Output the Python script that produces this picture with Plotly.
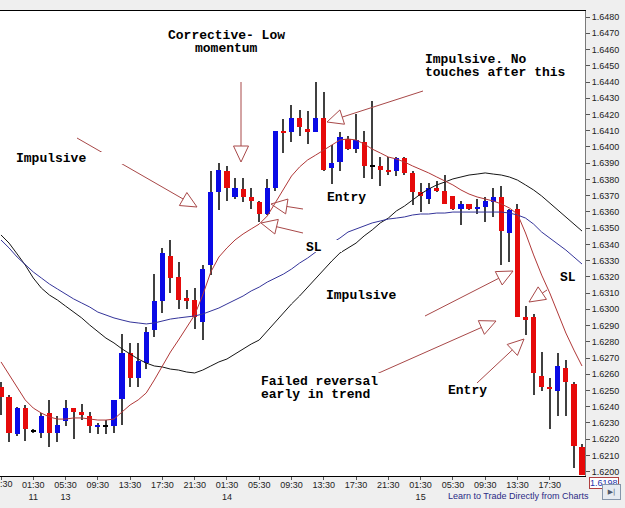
import math
import plotly.graph_objects as go

# ---------------- data (hourly candles) ----------------
tick_labels = ["21:30", "01:30<br>11", "05:30<br>13", "09:30", "13:30", "17:30", "21:30",
               "01:30<br>14", "05:30", "09:30", "13:30", "17:30", "21:30",
               "01:30<br>15", "05:30", "09:30", "13:30", "17:30"]

opens = [1.6252, 1.6246, 1.6223, 1.6239, 1.6225, 1.6224, 1.6236, 1.6224, 1.6231, 1.6239,
         1.6237, 1.6234, 1.6228, 1.6228, 1.6228, 1.6245, 1.6273, 1.6258, 1.6267, 1.6287,
         1.6305, 1.6333, 1.6320, 1.6307, 1.6306, 1.6292, 1.6327, 1.6372, 1.6385, 1.6369,
         1.6374, 1.6369, 1.6366, 1.6359, 1.6375, 1.6410, 1.6409, 1.6418, 1.6411, 1.6409,
         1.6418, 1.6387, 1.6391, 1.6405, 1.6399, 1.6403, 1.6388, 1.6388, 1.6386, 1.6385,
         1.6393, 1.6384, 1.6372, 1.6368, 1.6375, 1.6373, 1.6370, 1.6362, 1.6365, 1.6362,
         1.6363, 1.6366, 1.6369, 1.6347, 1.6362, 1.6295, 1.6295, 1.6259, 1.6252, 1.6250,
         1.6264, 1.6254, 1.6215]
highs = [1.6255, 1.6247, 1.6240, 1.6241, 1.6226, 1.6236, 1.6244, 1.6234, 1.6244, 1.6239,
         1.6242, 1.6237, 1.6230, 1.6232, 1.6244, 1.6285, 1.6279, 1.6279, 1.6289, 1.6322,
         1.6338, 1.6343, 1.6329, 1.6312, 1.6313, 1.6327, 1.6385, 1.6390, 1.6388, 1.6381,
         1.6381, 1.6375, 1.6367, 1.6380, 1.6410, 1.6417, 1.6426, 1.6423, 1.6422, 1.6440,
         1.6434, 1.6401, 1.6409, 1.6407, 1.6420, 1.6410, 1.6428, 1.6394, 1.6394, 1.6394,
         1.6394, 1.6385, 1.6378, 1.6378, 1.6379, 1.6383, 1.6370, 1.6367, 1.6365, 1.6368,
         1.6369, 1.6375, 1.6376, 1.6362, 1.6365, 1.6302, 1.6297, 1.6274, 1.6258, 1.6273,
         1.6269, 1.6255, 1.6217]
lows = [1.6235, 1.6218, 1.6222, 1.6219, 1.6224, 1.6221, 1.6215, 1.6218, 1.6228, 1.6220,
        1.6232, 1.6224, 1.6223, 1.6223, 1.6224, 1.6229, 1.6252, 1.6252, 1.6263, 1.6283,
        1.6298, 1.6310, 1.6300, 1.6300, 1.6288, 1.6281, 1.6321, 1.6361, 1.6367, 1.6368,
        1.6366, 1.6362, 1.6354, 1.6358, 1.6373, 1.6396, 1.6403, 1.6407, 1.6402, 1.6409,
        1.6385, 1.6377, 1.6385, 1.6398, 1.6396, 1.6381, 1.6380, 1.6376, 1.6383, 1.6382,
        1.6383, 1.6364, 1.6360, 1.6365, 1.6372, 1.6365, 1.6361, 1.6352, 1.6361, 1.6359,
        1.6354, 1.6357, 1.6327, 1.6329, 1.6295, 1.6284, 1.6247, 1.6250, 1.6226, 1.6234,
        1.6234, 1.6202, 1.6198]
closes = [1.6246, 1.6224, 1.6239, 1.6226, 1.6225, 1.6234, 1.6224, 1.6229, 1.6239, 1.6237,
          1.6235, 1.6228, 1.6229, 1.6228, 1.6244, 1.6273, 1.6258, 1.6268, 1.6286, 1.6305,
          1.6335, 1.6319, 1.6306, 1.6305, 1.6295, 1.6325, 1.6372, 1.6386, 1.6375, 1.6375,
          1.6369, 1.6367, 1.6359, 1.6375, 1.6410, 1.6409, 1.6418, 1.6412, 1.6409, 1.6418,
          1.6386, 1.6390, 1.6406, 1.6399, 1.6404, 1.6388, 1.6388, 1.6386, 1.6385, 1.6393,
          1.6384, 1.6372, 1.6370, 1.6375, 1.6373, 1.6365, 1.6362, 1.6365, 1.6362, 1.6363,
          1.6367, 1.6369, 1.6348, 1.6361, 1.6295, 1.6294, 1.6261, 1.6252, 1.6251, 1.6265,
          1.6255, 1.6216, 1.6198]

ma_fast = [1.62676, 1.62596, 1.62515, 1.62442, 1.62392, 1.62361, 1.62337, 1.62324, 1.62324, 1.62331,
           1.62331, 1.62324, 1.62318, 1.62318, 1.62324, 1.62368, 1.62411, 1.62442, 1.62485, 1.62565,
           1.62651, 1.62737, 1.62811, 1.62891, 1.62965, 1.63088, 1.63230, 1.63322, 1.63378, 1.63427,
           1.63464, 1.63495, 1.63525, 1.63575, 1.63655, 1.63735, 1.63821, 1.63877, 1.63920, 1.63950,
           1.63981, 1.64012, 1.64043, 1.64049, 1.64043, 1.64018, 1.63987, 1.63963, 1.63938, 1.63926,
           1.63907, 1.63883, 1.63864, 1.63840, 1.63815, 1.63790, 1.63766, 1.63735, 1.63710, 1.63692,
           1.63680, 1.63667, 1.63649, 1.63624, 1.63587, 1.63470, 1.63335, 1.63211, 1.63101, 1.62983,
           1.62854, 1.62749, 1.62651]
ma_slow = [1.63458, 1.63408, 1.63341, 1.63273, 1.63193, 1.63131, 1.63088, 1.63057, 1.63020, 1.62983,
           1.62947, 1.62903, 1.62860, 1.62823, 1.62793, 1.62756, 1.62725, 1.62694, 1.62669, 1.62651,
           1.62645, 1.62632, 1.62626, 1.62614, 1.62608, 1.62626, 1.62651, 1.62676, 1.62694, 1.62725,
           1.62756, 1.62786, 1.62811, 1.62867, 1.62922, 1.62977, 1.63033, 1.63082, 1.63137, 1.63193,
           1.63242, 1.63298, 1.63347, 1.63378, 1.63408, 1.63452, 1.63489, 1.63532, 1.63562, 1.63606,
           1.63636, 1.63673, 1.63710, 1.63741, 1.63766, 1.63784, 1.63803, 1.63815, 1.63827, 1.63833,
           1.63840, 1.63833, 1.63827, 1.63815, 1.63796, 1.63766, 1.63735, 1.63698, 1.63655, 1.63612,
           1.63569, 1.63525, 1.63482]
ma_mid = [1.63427, 1.63378, 1.63322, 1.63273, 1.63230, 1.63193, 1.63156, 1.63125, 1.63094, 1.63064,
          1.63039, 1.63014, 1.62983, 1.62965, 1.62947, 1.62934, 1.62922, 1.62916, 1.62910, 1.62916,
          1.62928, 1.62940, 1.62947, 1.62953, 1.62959, 1.62971, 1.62990, 1.63008, 1.63033, 1.63057,
          1.63082, 1.63113, 1.63137, 1.63168, 1.63193, 1.63217, 1.63248, 1.63285, 1.63316, 1.63353,
          1.63390, 1.63408, 1.63439, 1.63476, 1.63495, 1.63513, 1.63532, 1.63544, 1.63556, 1.63562,
          1.63569, 1.63581, 1.63587, 1.63587, 1.63593, 1.63593, 1.63599, 1.63599, 1.63599, 1.63599,
          1.63599, 1.63599, 1.63599, 1.63593, 1.63581, 1.63562, 1.63525, 1.63476, 1.63439, 1.63402,
          1.63365, 1.63322, 1.63279]
last_price = "1.6198"

# ---------------- figure ----------------
n = len(opens)
idx = list(range(n))
UP, DOWN, FLAT = "#0a0ae6", "#e60a0a", "#000000"
body_base = [min(o, c) for o, c in zip(opens, closes)]
body_len = [max(abs(c - o), 0.00007) for o, c in zip(opens, closes)]
body_col = [UP if c > o else (DOWN if c < o else FLAT) for o, c in zip(opens, closes)]

fig = go.Figure()
fig.add_trace(go.Bar(x=idx, base=lows, y=[h - l for h, l in zip(highs, lows)], width=0.13,
                     marker=dict(color="#404040", line=dict(width=0)), hoverinfo="skip"))
fig.add_trace(go.Bar(x=idx, base=body_base, y=body_len, width=0.64,
                     marker=dict(color=body_col, line=dict(width=0))))
fig.add_trace(go.Scatter(x=idx, y=ma_slow, mode="lines", line=dict(color="#151515", width=1)))
fig.add_trace(go.Scatter(x=idx, y=ma_mid, mode="lines", line=dict(color="#34349a", width=1)))
fig.add_trace(go.Scatter(x=idx, y=ma_fast, mode="lines", line=dict(color="#b03838", width=1)))

# plot-area geometry (pixels) used only for overlay annotations
PL, PR, PT, PB = 0, 585, 11, 476


def P(px, py):
    return (px - PL) / (PR - PL), (PB - py) / (PB - PT)


shapes = []
ARC = "#a84848"


def arrow(tail, tip, L=16, W=7.5):
    dx, dy = tip[0] - tail[0], tip[1] - tail[1]
    d = math.hypot(dx, dy)
    ux, uy = dx / d, dy / d
    bx, by = tip[0] - L * ux, tip[1] - L * uy
    nx, ny = -uy, ux
    c1 = (bx + W * nx, by + W * ny)
    c2 = (bx - W * nx, by - W * ny)
    x0, y0 = P(*tail)
    x1, y1 = P(bx, by)
    shapes.append(dict(type="line", xref="paper", yref="paper", x0=x0, y0=y0, x1=x1, y1=y1,
                       line=dict(color=ARC, width=1)))
    pts = [P(*tip), P(*c1), P(*c2)]
    path = "M {} {} L {} {} L {} {} Z".format(pts[0][0], pts[0][1], pts[1][0], pts[1][1], pts[2][0], pts[2][1])
    shapes.append(dict(type="path", xref="paper", yref="paper", path=path,
                       line=dict(color=ARC, width=1), fillcolor="rgba(0,0,0,0)"))


arrow((77, 138), (197, 207))
arrow((241, 82), (241, 162))
arrow((303, 209), (271, 204))
arrow((303, 233), (261, 223))
arrow((423, 91), (327, 122))
arrow((425, 316), (513, 271))
arrow((372, 376), (496, 321))
arrow((547, 290), (529, 302))
arrow((477, 383), (524, 339))


def box(x0, y0, x1, y1):
    a, b = P(x0, y1)
    c, d = P(x1, y0)
    shapes.append(dict(type="rect", xref="paper", yref="paper", x0=a, y0=b, x1=c, y1=d,
                       fillcolor="white", line=dict(width=0)))


box(145, 27, 307, 54)
box(420, 50, 572, 78)
box(13, 152, 140, 164)
box(303, 191, 388, 204)
box(287, 240, 342, 252)
box(323, 287, 423, 302)
box(255, 373, 385, 400)
box(432, 383, 503, 397)
box(547, 271, 583, 284)

annos = []
MONO = "Liberation Mono, Courier New, monospace"


def label(text, x, y, anchor="left"):
    px, py = P(x, y)
    annos.append(dict(text="<b>" + text + "</b>", x=px, y=py, xref="paper", yref="paper",
                      xanchor=anchor, yanchor="middle", showarrow=False,
                      font=dict(family=MONO, size=13, color="#000000")))


label("Corrective- Low", 226, 36, "center")
label("momentum", 226, 48, "center")
label("Impulsive. No", 423, 59)
label("touches after this", 423, 72)
label("Impulsive", 14, 159)
label("Entry", 325, 198)
label("SL", 304, 247)
label("Impulsive", 324, 295)
label("Failed reversal", 259, 381)
label("early in trend", 259, 394)
label("Entry", 446, 390)
label("SL", 558, 277)

SANS = "Liberation Sans, Arial"
# first time label sits on the left edge and is cut by it, as in the source
ex, ey = P(1, 484)
annos.append(dict(text=tick_labels[0], x=ex, y=ey, xref="paper", yref="paper", xanchor="center",
                  yanchor="middle", showarrow=False, font=dict(family=SANS, size=9, color="#222222")))
bx_, by_ = P(518, 496)
annos.append(dict(text="Learn to Trade Directly from Charts", x=bx_, y=by_, xref="paper", yref="paper",
                  xanchor="center", yanchor="middle", showarrow=False,
                  font=dict(family=SANS, size=9, color="#2b2b86")))
lx, ly = P(604, 483)
annos.append(dict(text=last_price, x=lx, y=ly, xref="paper", yref="paper", xanchor="center",
                  yanchor="middle", showarrow=False, bgcolor="white", bordercolor="#b04040",
                  borderwidth=1, borderpad=0, font=dict(family=SANS, size=9, color="#2233aa")))
kx, ky = P(611, 492)
annos.append(dict(text="▶|", x=kx, y=ky, xref="paper", yref="paper", xanchor="center",
                  yanchor="middle", showarrow=False, bgcolor="#e6ebf1", bordercolor="#8595aa",
                  borderwidth=1, borderpad=2, width=13, height=10,
                  font=dict(family="DejaVu Sans", size=7, color="#505a6a")))

tick_pos = idx[::4][:len(tick_labels)]

fig.update_layout(
    width=625, height=508,
    margin=dict(l=PL, r=625 - PR, t=PT, b=508 - PB, pad=0),
    paper_bgcolor="#efefef", plot_bgcolor="white",
    showlegend=False, barmode="overlay", bargap=0,
    shapes=shapes, annotations=annos,
    xaxis=dict(range=[-0.124, 72.37], tickmode="array", tickvals=tick_pos, ticktext=tick_labels,
               showgrid=False, zeroline=False, showline=True, linecolor="#000000", linewidth=1,
               mirror=True, ticks="outside", ticklen=3, tickcolor="#555555", ticklabelstandoff=-3,
               tickfont=dict(family=SANS, size=9, color="#222222")),
    yaxis=dict(range=[1.619735, 1.648373], side="right", dtick=0.001, tickformat=".4f",
               showgrid=False, zeroline=False, showline=True, linecolor="#7a7a7a", linewidth=1,
               ticks="outside", ticklen=4, tickcolor="#555555",
               tickfont=dict(family=SANS, size=9, color="#222222")),
)

fig.write_html("out.html")
